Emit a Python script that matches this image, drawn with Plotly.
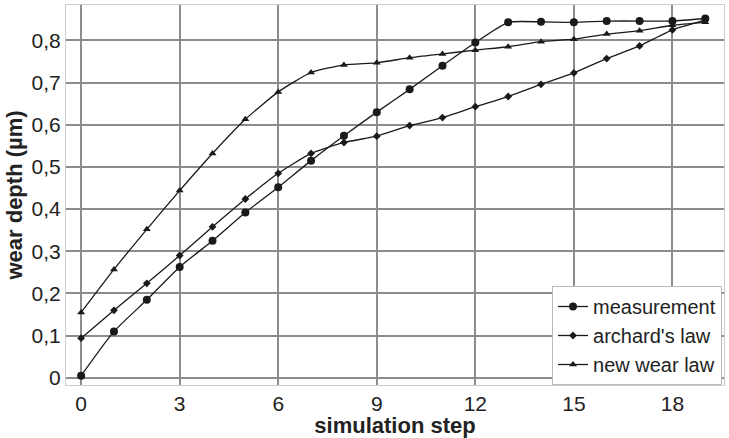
import plotly.graph_objects as go

steps = list(range(20))
measurement = [0.005, 0.11, 0.185, 0.263, 0.325, 0.392, 0.452, 0.515, 0.574, 0.63,
               0.684, 0.74, 0.795, 0.843, 0.844, 0.843, 0.846, 0.846, 0.846, 0.852]
archard = [0.094, 0.16, 0.224, 0.29, 0.358, 0.424, 0.485, 0.532, 0.558, 0.573,
           0.598, 0.617, 0.643, 0.667, 0.696, 0.723, 0.757, 0.787, 0.825, 0.848]
new_wear = [0.155, 0.257, 0.352, 0.444, 0.532, 0.613, 0.678, 0.724, 0.742, 0.747,
            0.759, 0.768, 0.777, 0.785, 0.797, 0.803, 0.815, 0.823, 0.836, 0.843]
x_ticks = [0, 3, 6, 9, 12, 15, 18]
y_ticks = [0, 0.1, 0.2, 0.3, 0.4, 0.5, 0.6, 0.7, 0.8]

font = "Liberation Sans, Arial, sans-serif"
col = "#1a1a1a"

fig = go.Figure()
series = [
    ("measurement", measurement, "circle", 8),
    ("archard's law", archard, "diamond", 6),
    ("new wear law", new_wear, "triangle-up", 7),
]
for name, ys, sym, sz in series:
    fig.add_trace(go.Scatter(
        x=steps, y=ys, name=name, mode="lines+markers",
        line=dict(color=col, width=1.3, shape="spline", smoothing=0.5),
        marker=dict(symbol=sym, size=sz, color=col),
    ))

grid = "#8c8c8c"
fig.update_layout(
    width=729, height=438,
    margin=dict(l=66, r=5, t=5, b=53),
    paper_bgcolor="white", plot_bgcolor="white",
    separators=", ",
    font=dict(family=font, size=20, color="#222"),
    showlegend=True,
    legend=dict(x=0.997, y=0, xanchor="right", yanchor="bottom",
                bgcolor="white", bordercolor="#bbbbbb", borderwidth=1,
                font=dict(size=20), tracegroupgap=0, itemwidth=30,
                traceorder="normal"),
    xaxis=dict(range=[-0.46, 19.57], tickvals=x_ticks, showgrid=True,
               gridcolor=grid, gridwidth=1.5, zeroline=False,
               showline=True, linecolor="#cccccc", mirror=True,
               ticks="", ticklen=0, tickfont=dict(size=21),
               title=dict(text="<b>simulation step</b>", font=dict(size=22), standoff=0)),
    yaxis=dict(range=[-0.017, 0.884], tickvals=y_ticks, showgrid=True,
               gridcolor=grid, gridwidth=1.5, zeroline=False,
               showline=True, linecolor="#cccccc", mirror=True,
               ticks="", ticklen=0, tickfont=dict(size=21),
               title=dict(text="<b>wear depth (µm)</b>", font=dict(size=22), standoff=2)),
)

fig.write_html("out.html")
